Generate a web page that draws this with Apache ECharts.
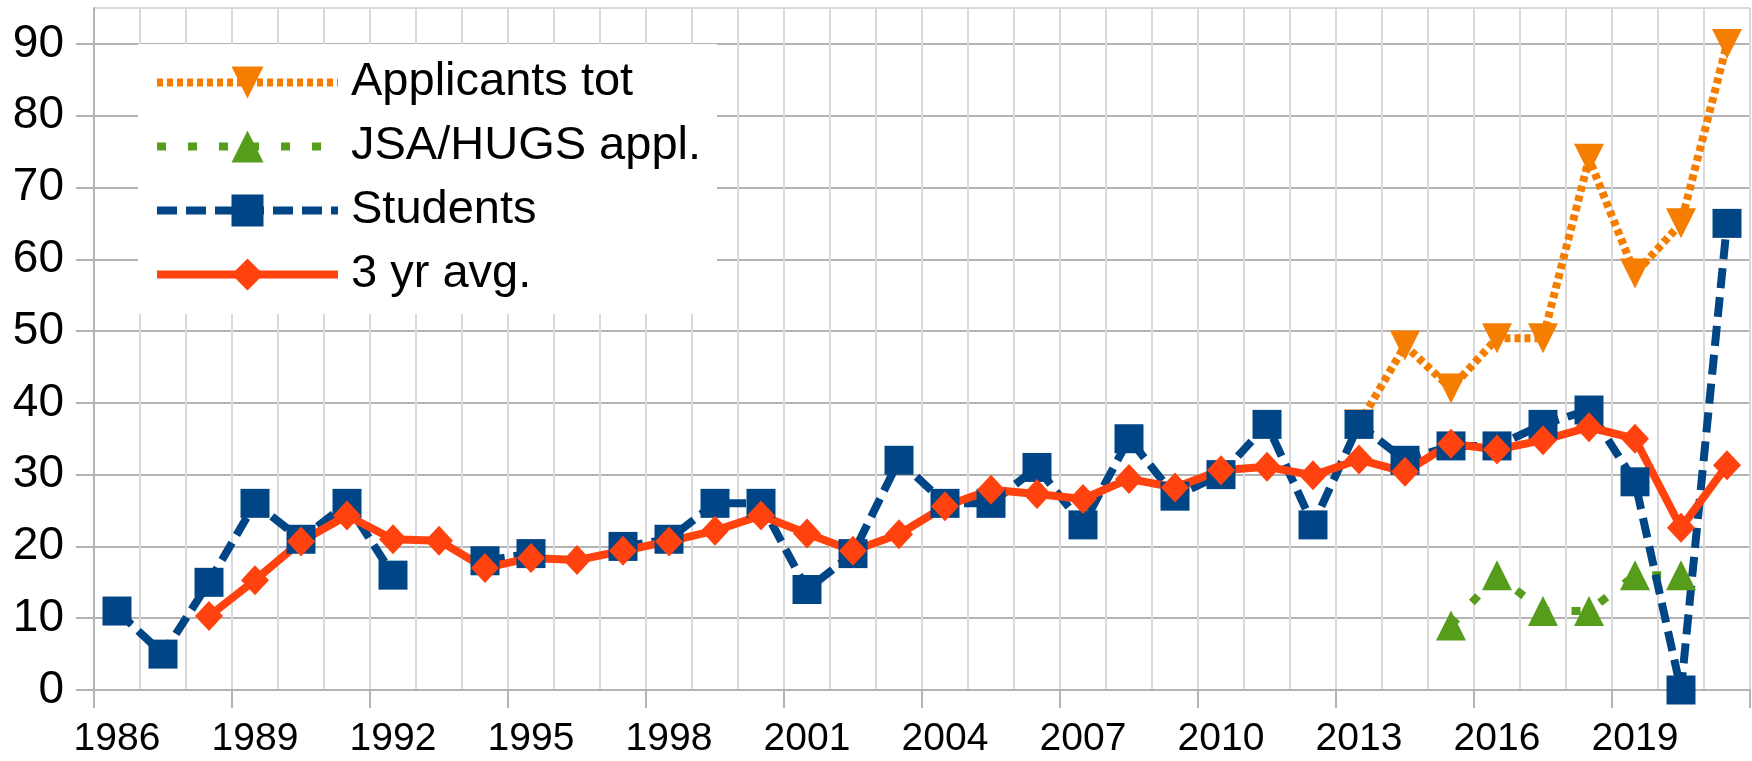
<!DOCTYPE html>
<html>
<head>
<meta charset="utf-8">
<script src="https://cdn.jsdelivr.net/npm/echarts@6/dist/echarts.min.js"></script>
<style>
html,body{margin:0;padding:0;background:#fff;}
#chart{width:1752px;height:761px;}
</style>
</head>
<body>
<div id="chart"></div>
<script>
var years = ['1986','1987','1988','1989','1990','1991','1992','1993','1994','1995','1996','1997',
    '1998','1999','2000','2001','2002','2003','2004','2005','2006','2007','2008','2009',
    '2010','2011','2012','2013','2014','2015','2016','2017','2018','2019','2020','2021'];
var applicantsTot = [null,null,null,null,null,null,null,null,null,null,null,null,
    null,null,null,null,null,null,null,null,null,null,null,null,
    null,null,null,37,48,42,49,49,74,58,65,90];
var jsaHugs = [null,null,null,null,null,null,null,null,null,null,null,null,
    null,null,null,null,null,null,null,null,null,null,null,null,
    null,null,null,null,null,9,16,11,11,16,16,null];
var students = [11,5,15,26,21,26,16,null,18,19,null,20,
    21,26,26,14,19,32,26,26,31,23,35,27,
    30,37,23,37,32,34,34,37,39,29,0,65];
var avg3yr = [null,null,10.3,15.3,20.7,24.3,21,20.8,17,18.4,18.1,19.4,
    20.7,22.2,24.3,21.8,19.4,21.7,25.6,27.9,27.3,26.6,29.4,28.2,
    30.6,31.1,29.9,32.1,30.4,34.3,33.5,34.8,36.6,35,22.6,31.3];

var font = 'Liberation Sans';
var mychart = echarts.init(document.getElementById('chart'));
mychart.setOption({
    animation: false,
    backgroundColor: '#fff',
    grid: {left: 94, right: 2, top: 8, bottom: 71, containLabel: false},
    legend: {
        orient: 'vertical',
        left: 138,
        top: 44,
        padding: [15, 16, 16, 15],
        backgroundColor: '#fff',
        itemWidth: 181,
        itemHeight: 40,
        itemGap: 17,
        lineStyle: {width: 8},
        textStyle: {fontFamily: font, fontSize: 47, color: '#000', lineHeight: 46, padding: [0, 0, 0, 8]},
        data: ['Applicants tot', 'JSA/HUGS appl.', 'Students', '3 yr avg.']
    },
    xAxis: {
        type: 'category',
        data: years,
        boundaryGap: true,
        axisLine: {lineStyle: {color: '#b3b3b3', width: 2}},
        axisTick: {show: true, interval: 2, length: 18, lineStyle: {color: '#b3b3b3', width: 2}},
        axisLabel: {interval: 2, margin: 30, fontFamily: font, fontSize: 39, color: '#000'},
        splitLine: {show: true, interval: 0, lineStyle: {color: '#d9d9d9', width: 2}}
    },
    yAxis: {
        type: 'value',
        min: 0,
        max: 95,
        interval: 10,
        axisLine: {show: true, lineStyle: {color: '#b3b3b3', width: 2}},
        axisTick: {show: true, length: 18, lineStyle: {color: '#b3b3b3', width: 2}},
        axisLabel: {margin: 30, fontFamily: font, fontSize: 46, color: '#000', showMaxLabel: false},
        splitLine: {show: true, lineStyle: {color: ['#b3b3b3', '#b3b3b3', '#b3b3b3', '#b3b3b3', '#b3b3b3',
            '#b3b3b3', '#b3b3b3', '#b3b3b3', '#b3b3b3', '#b3b3b3', '#d9d9d9'], width: 2}}
    },
    series: [{
        name: 'Applicants tot',
        type: 'line',
        data: applicantsTot,
        symbol: 'triangle',
        symbolRotate: 180,
        symbolSize: 30,
        itemStyle: {color: '#f57d00'},
        lineStyle: {color: '#f57d00', width: 8, type: [6, 4]}
    }, {
        name: 'JSA/HUGS appl.',
        type: 'line',
        data: jsaHugs,
        symbol: 'triangle',
        symbolSize: 30,
        itemStyle: {color: '#579d1c'},
        lineStyle: {color: '#579d1c', width: 8, type: [9, 22]}
    }, {
        name: 'Students',
        type: 'line',
        data: students,
        symbol: 'rect',
        symbolSize: 29,
        itemStyle: {color: '#004586'},
        lineStyle: {color: '#004586', width: 8, type: [20, 9]}
    }, {
        name: '3 yr avg.',
        type: 'line',
        data: avg3yr,
        symbol: 'diamond',
        symbolSize: [28, 30],
        itemStyle: {color: '#ff420e'},
        lineStyle: {color: '#ff420e', width: 8}
    }]
});
</script>
</body>
</html>
